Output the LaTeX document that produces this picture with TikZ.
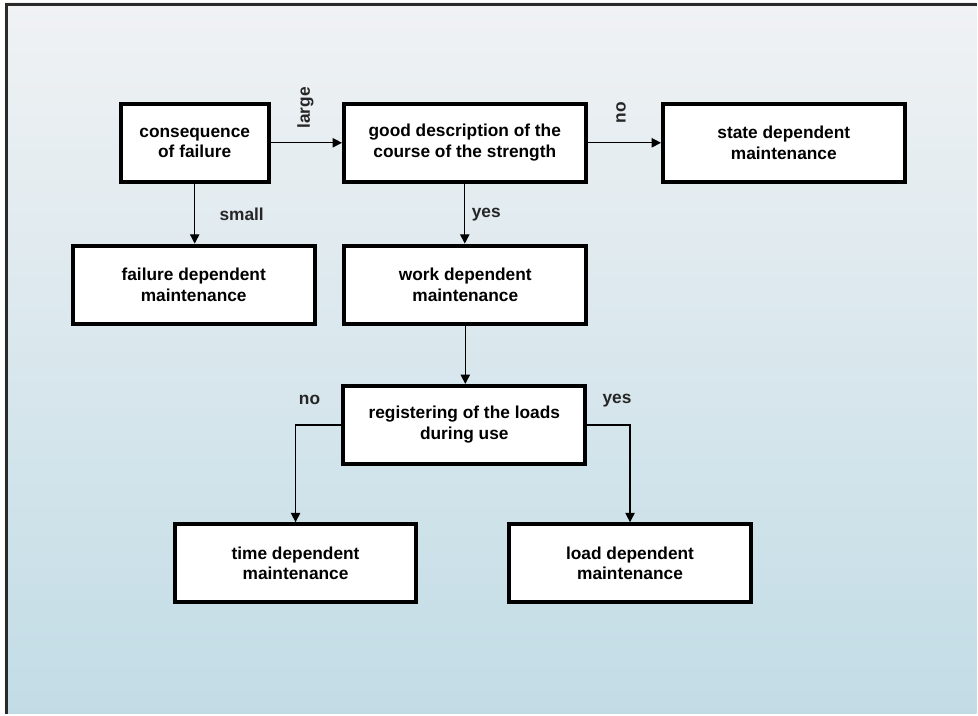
\documentclass[tikz,border=0pt]{standalone}
\usepackage{fontspec}
\setmainfont{Liberation Sans}
\usetikzlibrary{arrows.meta}
\definecolor{bgtop}{HTML}{F0F2F4}
\definecolor{bgbot}{HTML}{C2DCE6}
\definecolor{frameline}{HTML}{2A2A2A}
\begin{document}
\begin{tikzpicture}[x=0.75pt,y=-0.75pt,
  font=\fontsize{13}{15.5}\selectfont\bfseries,
  box/.style={draw=black,line width=3pt,fill=white,align=center,minimum width=181.5pt,minimum height=58.5pt,inner sep=0pt},
  ar/.style={-{Triangle[length=7pt,width=7pt]},line width=1pt},
  lbl/.style={inner sep=1pt,text=black!85}]
  % background and frame
  \fill[white] (0,0) rectangle (978,715);
  \shade[top color=bgtop,bottom color=bgbot] (5,3) rectangle (978,715);
  \draw[frameline,line width=2.25pt] (6.5,715) -- (6.5,4.5) -- (978,4.5);
  % boxes
  \node[box,minimum width=111pt] (cons) at (195,143) {consequence\\of failure};
  \node[box] (good) at (465.5,143) {good description of the\\course of the strength};
  \node[box] (state) at (785,143) {state dependent\\maintenance};
  \node[box] (fail) at (194,285) {failure dependent\\maintenance};
  \node[box] (work) at (466,285) {work dependent\\maintenance};
  \node[box] (reg) at (465,425.5) {registering of the loads\\during use};
  \node[box] (time) at (296,564) {time dependent\\maintenance};
  \node[box] (load) at (631,564) {load dependent\\maintenance};
  % connectors
  \draw[ar] (cons) -- (good); \draw[ar] (good) -- (state);
  \draw[ar] (cons) -- (cons|-fail.north); \draw[ar] (good) -- (good|-work.north);
  \draw[ar] (work) -- (work|-reg.north);
  \draw[ar] (reg.west) -| (time); \draw[ar] (reg.east) -| (load);
  % labels
  \node[lbl,rotate=90] (large) at (306,108) {large};
  \node[lbl,rotate=90] (no1) at (622,113) {no};
  \node[lbl] (small) at (242,215) {small};
  \node[lbl] (yes1) at (487,215) {yes};
  \node[lbl] (no2) at (310,401) {no};
  \node[lbl] (yes2) at (618,401) {yes};
\end{tikzpicture}
\end{document}
